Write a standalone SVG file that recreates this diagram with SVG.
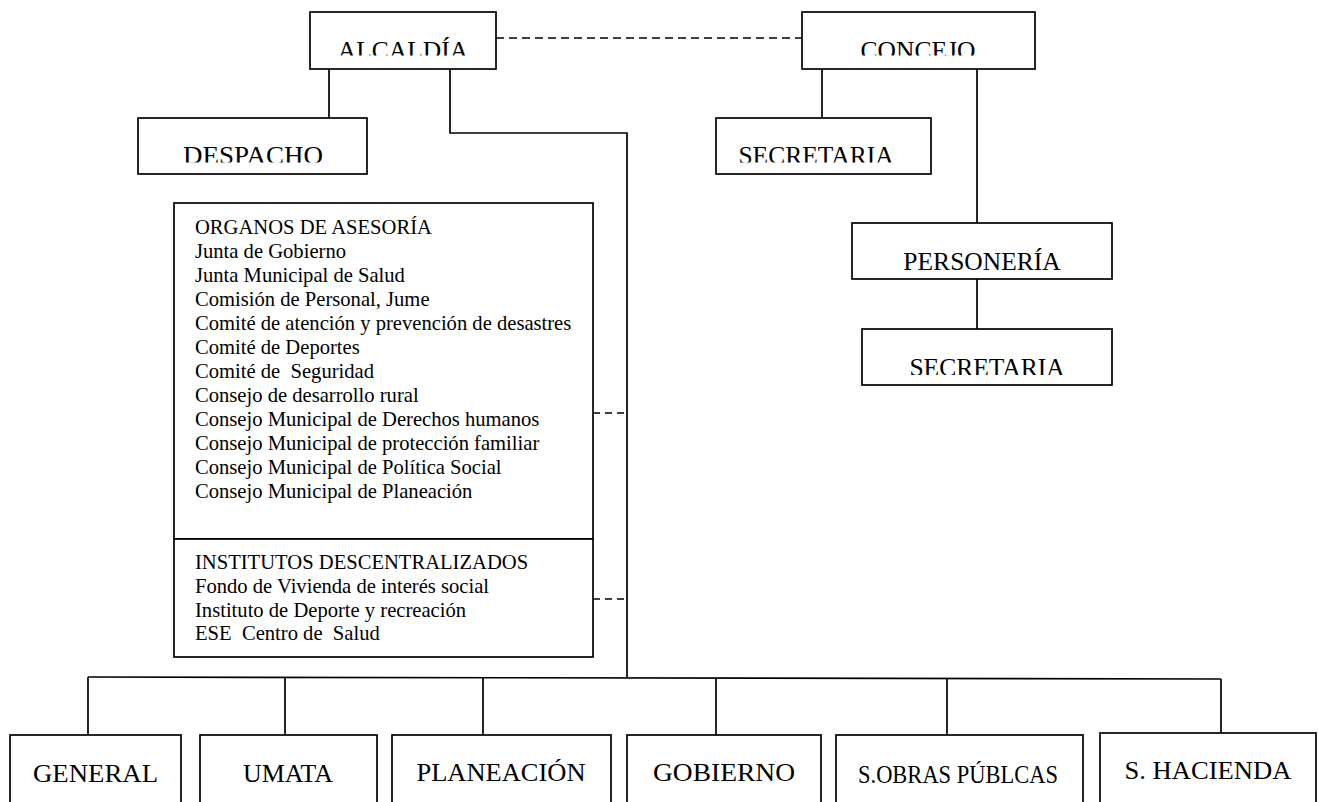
<svg xmlns="http://www.w3.org/2000/svg" width="1318" height="802" viewBox="0 0 1318 802">
<style>
.box{fill:#fff;stroke:#000;stroke-width:1.7}
.ln{fill:none;stroke:#000;stroke-width:1.7}
.dash{stroke-dasharray:8 5}
.dash2{stroke-dasharray:7 5}
.t{font-family:"Liberation Serif","Times New Roman",serif;font-size:25.5px;text-anchor:middle;fill:#000}
.b{font-family:"Liberation Serif","Times New Roman",serif;font-size:26px;text-anchor:middle;fill:#000}
.l{font-family:"Liberation Serif","Times New Roman",serif;font-size:20.6px;fill:#000}
</style>
<defs>
<clipPath id="cTop" clipPathUnits="userSpaceOnUse"><rect x="0" y="0" width="1318" height="55.5"/></clipPath>
<clipPath id="cSec" clipPathUnits="userSpaceOnUse"><rect x="0" y="100" width="1318" height="62.5"/></clipPath>
<clipPath id="cSec2" clipPathUnits="userSpaceOnUse"><rect x="0" y="330" width="1318" height="45"/></clipPath>
</defs>
<rect width="1318" height="802" fill="#fff"/>
<g id="connectors">
<line class="ln dash" x1="496" y1="38" x2="802" y2="38"/>
<line class="ln" x1="329" y1="69" x2="329" y2="118"/>
<polyline class="ln" points="450,69 450,133 627,133 627,677"/>
<line class="ln" x1="822" y1="69" x2="822" y2="118"/>
<line class="ln" x1="977" y1="69" x2="977" y2="223"/>
<line class="ln" x1="977" y1="279" x2="977" y2="329"/>
<line class="ln dash2" x1="593" y1="413" x2="627" y2="413"/>
<line class="ln dash2" x1="593" y1="599" x2="627" y2="599"/>
<line class="ln" x1="88" y1="677" x2="1221" y2="679"/>
<line class="ln" x1="88" y1="677" x2="88" y2="735"/>
<line class="ln" x1="285" y1="677" x2="285" y2="735"/>
<line class="ln" x1="483" y1="677" x2="483" y2="735"/>
<line class="ln" x1="716" y1="678" x2="716" y2="735"/>
<line class="ln" x1="947" y1="678" x2="947" y2="735"/>
<line class="ln" x1="1221" y1="679" x2="1221" y2="733"/>
</g>
<g id="alcaldia">
<rect class="box" x="310" y="12" width="186" height="57"/>
<text class="t" x="403" y="59" clip-path="url(#cTop)">ALCALDÍA</text>
</g>
<g id="concejo">
<rect class="box" x="802" y="12" width="233" height="57"/>
<text class="t" x="918" y="59" clip-path="url(#cTop)">CONCEJO</text>
</g>
<g id="despacho">
<rect class="box" x="138" y="118" width="229" height="56"/>
<text class="t" x="253" y="164" clip-path="url(#cSec)" textLength="140" lengthAdjust="spacingAndGlyphs">DESPACHO</text>
</g>
<g id="secretaria-concejo">
<rect class="box" x="716" y="118" width="215" height="56"/>
<text class="t" x="816" y="164" clip-path="url(#cSec)">SECRETARIA</text>
</g>
<g id="personeria">
<rect class="box" x="852" y="223" width="260" height="56"/>
<text class="t" x="982" y="270">PERSONERÍA</text>
</g>
<g id="secretaria-personeria">
<rect class="box" x="862" y="329" width="250" height="56"/>
<text class="t" x="987" y="376" clip-path="url(#cSec2)">SECRETARIA</text>
</g>
<g id="organos-asesoria">
<rect class="box" x="174" y="203" width="419" height="336"/>
<text class="l" x="195" y="234">ORGANOS DE ASESORÍA</text>
<text class="l" x="195" y="258">Junta de Gobierno</text>
<text class="l" x="195" y="282">Junta Municipal de Salud</text>
<text class="l" x="195" y="306">Comisión de Personal, Jume</text>
<text class="l" x="195" y="330">Comité de atención y prevención de desastres</text>
<text class="l" x="195" y="354">Comité de Deportes</text>
<text class="l" x="195" y="378" xml:space="preserve">Comité de  Seguridad</text>
<text class="l" x="195" y="402">Consejo de desarrollo rural</text>
<text class="l" x="195" y="426">Consejo Municipal de Derechos humanos</text>
<text class="l" x="195" y="450">Consejo Municipal de protección familiar</text>
<text class="l" x="195" y="474">Consejo Municipal de Política Social</text>
<text class="l" x="195" y="498">Consejo Municipal de Planeación</text>
</g>
<g id="institutos-descentralizados">
<rect class="box" x="174" y="539" width="419" height="118"/>
<text class="l" x="195" y="569">INSTITUTOS DESCENTRALIZADOS</text>
<text class="l" x="195" y="593">Fondo de Vivienda de interés social</text>
<text class="l" x="195" y="617">Instituto de Deporte y recreación</text>
<text class="l" x="195" y="640" xml:space="preserve">ESE  Centro de  Salud</text>
</g>
<g id="general">
<rect class="box" x="10" y="735" width="171" height="80"/>
<text class="b" x="95.5" y="782" textLength="125" lengthAdjust="spacingAndGlyphs">GENERAL</text>
</g>
<g id="umata">
<rect class="box" x="200" y="735" width="177" height="80"/>
<text class="b" x="288" y="782" textLength="90" lengthAdjust="spacingAndGlyphs">UMATA</text>
</g>
<g id="planeacion">
<rect class="box" x="392" y="735" width="219" height="80"/>
<text class="b" x="501" y="781" textLength="169" lengthAdjust="spacingAndGlyphs">PLANEACIÓN</text>
</g>
<g id="gobierno">
<rect class="box" x="627" y="735" width="194" height="80"/>
<text class="b" x="724" y="781" textLength="142" lengthAdjust="spacingAndGlyphs">GOBIERNO</text>
</g>
<g id="obras-publicas">
<rect class="box" x="836" y="735" width="247" height="80"/>
<text class="b" x="958" y="783" font-size="24" textLength="200" lengthAdjust="spacingAndGlyphs">S.OBRAS PÚBLCAS</text>
</g>
<g id="hacienda">
<rect class="box" x="1100" y="733" width="216" height="82"/>
<text class="b" x="1208" y="779" textLength="167" lengthAdjust="spacingAndGlyphs">S. HACIENDA</text>
</g>
</svg>
